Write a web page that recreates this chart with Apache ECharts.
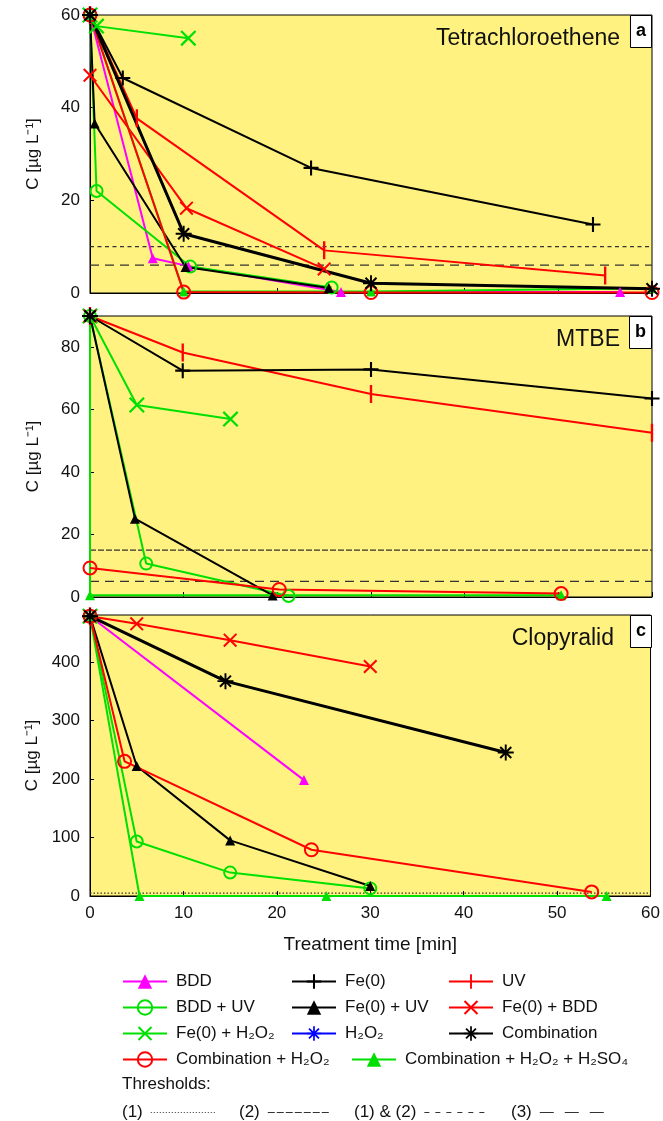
<!DOCTYPE html>
<html><head><meta charset="utf-8">
<script src="https://cdn.jsdelivr.net/npm/echarts@6/dist/echarts.min.js"></script>
<style>html,body{margin:0;padding:0;background:#fff}#c{width:663px;height:1121px}</style>
</head><body><div id="c"></div>
<script>
// ---------- DATA (time [min], C [µg/L]) ----------
// Panel a: Tetrachloroethene
const tce_BDD      = [[0,60],[6.7,7.5],[10.5,5.8],[26.8,0.2],[56.6,0.2]];
const tce_Fe       = [[0,60],[3.5,46.4],[23.6,27],[53.7,14.8]];
const tce_UV       = [[0,60],[5,37.7],[25,9.2],[55,3.8]];
const tce_BDDUV    = [[0,60],[0.7,22],[10.7,5.7],[25.8,1.2]];
const tce_FeUV     = [[0,60],[0.5,36.6],[10.2,5.6],[25.5,1.1]];
const tce_FeBDD    = [[0,47],[10.3,18.3],[25,5.2]];
const tce_FeH2O2   = [[0,60],[0.7,57.6],[10.5,55]];
const tce_H2O2     = [[0,60]];
const tce_Comb     = [[0,60],[10,12.8],[30,2.1],[60,0.9]];
const tce_CombH    = [[0,60],[10,0.2],[30,0.1],[60,0.1]];
const tce_CombHS   = [[0,60],[10,0.3],[30,0.3],[60,1.0]];
const tce_thr12 = 10, tce_thr3 = 6;
// Panel b: MTBE
const mtbe_BDD     = [[0,90]];
const mtbe_Fe      = [[0,90],[9.9,72.5],[30,72.9],[60,63.6]];
const mtbe_UV      = [[0,90],[9.9,78.3],[30,65],[60,52.6]];
const mtbe_BDDUV   = [[0,90],[6,10.7],[21.2,0.3]];
const mtbe_FeUV    = [[0,90],[4.8,25.1],[19.5,0.5]];
const mtbe_FeBDD   = [[0,90]];
const mtbe_FeH2O2  = [[0,90],[5,61.5],[15,57]];
const mtbe_H2O2    = [[0,90]];
const mtbe_Comb    = [[0,90]];
const mtbe_CombH   = [[0,9.3],[20.2,2.4],[50.3,1.1]];
const mtbe_CombHS  = [[0,90],[0,0.6],[50.3,0.6]];
const mtbe_thr2 = 15, mtbe_thr3 = 5;
// Panel c: Clopyralid
const clo_BDD      = [[0,478],[22.9,198]];
const clo_Fe       = [[0,478]];
const clo_UV       = [[0,478]];
const clo_BDDUV    = [[0,478],[5,93],[15,40],[30,13]];
const clo_FeUV     = [[0,478],[5,222],[15,95],[30,17]];
const clo_FeBDD    = [[0,478],[5,465],[15,437],[30,392]];
const clo_FeH2O2   = [[0,478]];
const clo_H2O2     = [[0,478]];
const clo_Comb     = [[0,478],[14.5,367],[44.5,245]];
const clo_CombH    = [[0,478],[3.7,230],[23.7,79],[53.7,7]];
const clo_CombHS   = [[0,478],[5.3,0],[25.3,0],[55.3,0]];
const clo_thr1 = 5;

const xTicks = [0,10,20,30,40,50,60];
const panelTitles = ['Tetrachloroethene','MTBE','Clopyralid'];
const panelLetters = ['a','b','c'];
const yMax = [60, 90, 480];
const yInt = [20, 20, 100];

// ---------- STYLE ----------
const FONT = 'Liberation Sans, Arial, Helvetica, sans-serif';
const GREEN = '#00E000', MAG = '#FF00FF', RED = '#FF0000', BLACK = '#000000', BLUE = '#0000FF';
const PLUS = 'path://M-0.14,-1H0.14V-0.14H1V0.14H0.14V1H-0.14V0.14H-1V-0.14H-0.14Z';
const VBAR = 'path://M-0.13,-1H0.13V1H-0.13Z M-1,0H-0.999V0.001H-1Z M0.999,0H1V0.001H0.999Z';
const XS = 'path://M-1,-0.8L-0.8,-1L1,0.8L0.8,1Z M1,-0.8L-0.8,1L-1,0.8L0.8,-1Z';
const STAR = 'path://M-0.12,-1L0.12,-1L0.12,1L-0.12,1Z M-1,-0.12L1,-0.12L1,0.12L-1,0.12Z M-0.78,-0.6L-0.6,-0.78L0.78,0.6L0.6,0.78Z M0.78,-0.6L-0.6,0.78L-0.78,0.6L0.6,-0.78Z';

const N = {
  BDD:'BDD', Fe:'Fe(0)', UV:'UV', BDDUV:'BDD + UV', FeUV:'Fe(0) + UV', FeBDD:'Fe(0) + BDD',
  FeH2O2:'Fe(0) + H₂O₂', H2O2:'H₂O₂', Comb:'Combination', CombH:'Combination + H₂O₂',
  CombHS:'Combination + H₂O₂ + H₂SO₄'
};
const ST = {};
ST[N.BDD]    = {c:MAG,   s:'triangle', z:10};
ST[N.Fe]     = {c:BLACK, s:PLUS, z:15};
ST[N.UV]     = {c:RED,   s:VBAR, z:18};
ST[N.BDDUV]  = {c:GREEN, s:'circle', z:12, hollow:true};
ST[N.FeUV]   = {c:BLACK, s:'triangle', z:10};
ST[N.FeBDD]  = {c:RED,   s:XS, z:14};
ST[N.FeH2O2] = {c:GREEN, s:XS, z:16};
ST[N.H2O2]   = {c:BLUE,  s:STAR, z:14};
ST[N.Comb]   = {c:BLACK, s:STAR, z:16, w:3};
ST[N.CombH]  = {c:RED,   s:'circle', z:13, hollow:true};
ST[N.CombHS] = {c:GREEN, s:'triangle', z:10};

function mk(name, data, idx){
  const st = ST[name];
  return {
    type:'line', name, data, xAxisIndex:idx, yAxisIndex:idx,
    symbol: st.s, symbolSize: st.z,
    lineStyle:{color:st.c, width: st.w || 2},
    itemStyle: st.hollow ? {color:'rgba(0,0,0,0)', borderColor:st.c, borderWidth:2}
                         : {color:st.c, borderWidth:0},
    emphasis:{disabled:true}, silent:true, z: 3
  };
}
const THR = {
  '(1)':       {type:[1.5,2], leg:[1,2],   w:1.2},
  '(2)':       {type:[6,2],   leg:[7,2],   w:1.2},
  '(1) & (2)': {type:[4,3.5], leg:[5,6],   w:1.2},
  '(3)':       {type:[9,6],   leg:[14,11], w:1.2}
};
function thr(name, v, idx){
  return {
    type:'line', name, data:[[xTicks[0],v],[xTicks[xTicks.length-1],v]],
    xAxisIndex:idx, yAxisIndex:idx, symbol:'none',
    lineStyle:{color:'#333', width:THR[name].w, type:THR[name].type},
    itemStyle:{color:'rgba(0,0,0,0)'}, emphasis:{disabled:true}, silent:true, z:2
  };
}

const panels = [
  [tce_BDD,tce_Fe,tce_UV,tce_BDDUV,tce_FeUV,tce_FeBDD,tce_FeH2O2,tce_H2O2,tce_Comb,tce_CombH,tce_CombHS],
  [mtbe_BDD,mtbe_Fe,mtbe_UV,mtbe_BDDUV,mtbe_FeUV,mtbe_FeBDD,mtbe_FeH2O2,mtbe_H2O2,mtbe_Comb,mtbe_CombH,mtbe_CombHS],
  [clo_BDD,clo_Fe,clo_UV,clo_BDDUV,clo_FeUV,clo_FeBDD,clo_FeH2O2,clo_H2O2,clo_Comb,clo_CombH,clo_CombHS]
];
const names = [N.BDD,N.Fe,N.UV,N.BDDUV,N.FeUV,N.FeBDD,N.FeH2O2,N.H2O2,N.Comb,N.CombH,N.CombHS];

const series = [];
series.push(thr('(1) & (2)', tce_thr12, 0), thr('(3)', tce_thr3, 0));
series.push(thr('(2)', mtbe_thr2, 1), thr('(3)', mtbe_thr3, 1));
series.push(thr('(1)', clo_thr1, 2));
panels.forEach((p, idx) => {
  const order = [7,0,3,4,6,5,2,1,10,9,8];
  order.forEach(k => series.push(mk(names[k], p[k], idx)));
});

const gridTops = [15, 316, 615];
const gridH = [278, 281, 281];
const grid = gridTops.map((t,i) => ({
  left:90, right:11, top:t, height:gridH[i], show:true,
  backgroundColor:'#FFF280', borderColor:'#000', borderWidth:1
}));

const xAxis = [0,1,2].map(i => ({
  type:'value', gridIndex:i, min:0, max:60, interval:10,
  axisLine:{show:true, lineStyle:{color:'#000', width:1}},
  axisTick:{show:true, inside:true, length:5, lineStyle:{color:'#000'}},
  axisLabel:{show: i===2, fontSize:17, color:'#111', fontFamily:FONT, margin:9},
  splitLine:{show:false},
  name: i===2 ? 'Treatment time [min]' : '',
  nameLocation:'middle', nameGap:39,
  nameTextStyle:{fontSize:19, color:'#111', fontFamily:FONT}
}));
const yAxis = [0,1,2].map(i => ({
  type:'value', gridIndex:i, min:0, max:yMax[i], interval:yInt[i],
  axisLine:{show:true, lineStyle:{color:'#000', width:1}},
  axisTick:{show:true, inside:true, length:4, lineStyle:{color:'#000'}},
  axisLabel:{fontSize:17, color:'#111', fontFamily:FONT, margin:10, showMaxLabel: i===0},
  splitLine:{show:false},
  name:'C [µg L⁻¹]', nameLocation:'middle', nameRotate:90, nameGap:48,
  nameTextStyle:{fontSize:17, color:'#111', fontFamily:FONT}
}));

const titleRight = [43, 43, 49];
const title = [];
panelTitles.forEach((t,i) => {
  title.push({text:t, right:titleRight[i], top:gridTops[i]+12, padding:0,
    textStyle:{fontSize:23, fontWeight:'normal', color:'#111', fontFamily:FONT}});
  title.push({text:panelLetters[i], right:11, top:gridTops[i], padding:[7,6,8,6],
    backgroundColor:'#fff', borderColor:'#000', borderWidth:1,
    textStyle:{fontSize:18, fontWeight:'bold', color:'#000', fontFamily:FONT, lineHeight:18}});
});
title.push({text:'Thresholds:', left:122, top:1076, padding:0,
  textStyle:{fontSize:17, fontWeight:'normal', color:'#111', fontFamily:FONT}});

// legend layout: one legend per entry, [name, left, row]
const rowTop = [973, 999, 1025, 1051];
const legItems = [
  [N.BDD,122,0],[N.Fe,291,0],[N.UV,448,0],
  [N.BDDUV,122,1],[N.FeUV,291,1],[N.FeBDD,448,1],
  [N.FeH2O2,122,2],[N.H2O2,291,2],[N.Comb,448,2],
  [N.CombH,122,3],[N.CombHS,351,3]
];
const legend = legItems.map(([nm,l,r]) => ({
  orient:'horizontal', left:l, top:rowTop[r], itemWidth:44, itemHeight:18,
  selectedMode:false, padding:0, data:[nm],
  textStyle:{fontSize:17, color:'#111', fontFamily:FONT, padding:[0,0,0,4], lineHeight:17},
  lineStyle:{width:2}
}));
const thrLeg = [['(1)',122,65],['(2)',239,63],['(1) & (2)',354,65],['(3)',511,67]];
thrLeg.forEach(([nm,l,w]) => legend.push({
  orient:'horizontal', left:l, top:1104, align:'right', itemWidth:w, itemHeight:14,
  selectedMode:false, padding:0, data:[nm],
  itemStyle:{opacity:0}, lineStyle:{width:1.2, type:THR[nm].leg},
  textStyle:{fontSize:17, color:'#111', fontFamily:FONT, padding:[0,3,0,0], lineHeight:17}
}));

const chart = echarts.init(document.getElementById('c'), null, {renderer:'canvas'});
chart.setOption({animation:false, backgroundColor:'#fff', title, legend, grid, xAxis, yAxis, series});
</script></body></html>
